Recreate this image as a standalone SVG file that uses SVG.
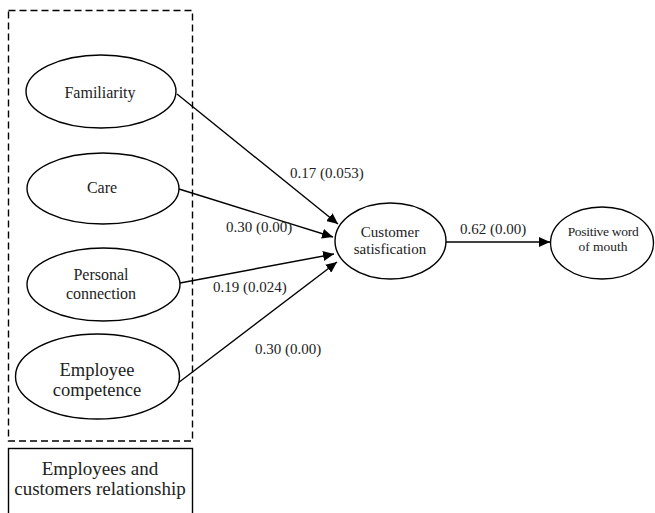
<svg xmlns="http://www.w3.org/2000/svg" width="655" height="513" viewBox="0 0 655 513">
<defs>
<style>
.node ellipse{fill:#fff;stroke:#000;stroke-width:1.4}
.t{font-family:"Liberation Serif","Times New Roman",serif;fill:#222;text-anchor:middle}
.lbl{font-family:"Liberation Serif","Times New Roman",serif;fill:#222;font-size:15px}
.edges line{stroke:#000;stroke-width:1.4;marker-end:url(#ah)}
</style>
<marker id="ah" markerWidth="12" markerHeight="10" refX="11" refY="5" orient="auto" markerUnits="userSpaceOnUse">
<path d="M0,0 L11,5 L0,10 Z" fill="#000"/>
</marker>
</defs>
<rect width="655" height="513" fill="#fff"/>
<g id="group-box">
<rect x="8.5" y="10.5" width="184" height="430.5" fill="none" stroke="#000" stroke-width="1.4" stroke-dasharray="7,4"/>
</g>
<g id="group-label">
<rect x="8.5" y="448.5" width="184" height="80" fill="none" stroke="#000" stroke-width="1.4"/>
<text class="t" x="100" y="475" font-size="19">Employees and</text>
<text class="t" x="100" y="495" font-size="19">customers relationship</text>
</g>
<g class="edges" id="connectors">
<line x1="177" y1="94" x2="338" y2="224"/>
<line x1="179" y1="189" x2="333" y2="237"/>
<line x1="180" y1="283" x2="334" y2="254"/>
<line x1="178" y1="383" x2="337" y2="262"/>
<line x1="446" y1="242" x2="550" y2="242"/>
</g>
<g id="edge-labels">
<text class="lbl" x="290" y="178">0.17 (0.053)</text>
<text class="lbl" x="226" y="232">0.30 (0.00)</text>
<text class="lbl" x="213" y="292">0.19 (0.024)</text>
<text class="lbl" x="255" y="354">0.30 (0.00)</text>
<text class="lbl" x="460" y="234">0.62 (0.00)</text>
</g>
<g class="node" id="familiarity">
<ellipse cx="101" cy="91.5" rx="75" ry="36.5"/>
<text class="t" x="100" y="98" font-size="16">Familiarity</text>
</g>
<g class="node" id="care">
<ellipse cx="103" cy="188.5" rx="76" ry="35.5"/>
<text class="t" x="102" y="193" font-size="16">Care</text>
</g>
<g class="node" id="personal-connection">
<ellipse cx="103.5" cy="284.5" rx="76.5" ry="36.5"/>
<text class="t" x="101" y="280" font-size="16">Personal</text>
<text class="t" x="101" y="299" font-size="16">connection</text>
</g>
<g class="node" id="employee-competence">
<ellipse cx="97.5" cy="376.5" rx="82" ry="42.5"/>
<text class="t" x="97" y="376" font-size="18.5">Employee</text>
<text class="t" x="97" y="396" font-size="18.5">competence</text>
</g>
<g class="node" id="customer-satisfication">
<ellipse cx="390.5" cy="241" rx="55.5" ry="38"/>
<text class="t" x="390" y="237" font-size="15">Customer</text>
<text class="t" x="390" y="254" font-size="15">satisfication</text>
</g>
<g class="node" id="positive-word-of-mouth">
<ellipse cx="602" cy="243" rx="51.5" ry="36"/>
<text class="t" x="603" y="236" font-size="13.5" letter-spacing="-0.3">Positive word</text>
<text class="t" x="603" y="251" font-size="13.5">of mouth</text>
</g>
</svg>
